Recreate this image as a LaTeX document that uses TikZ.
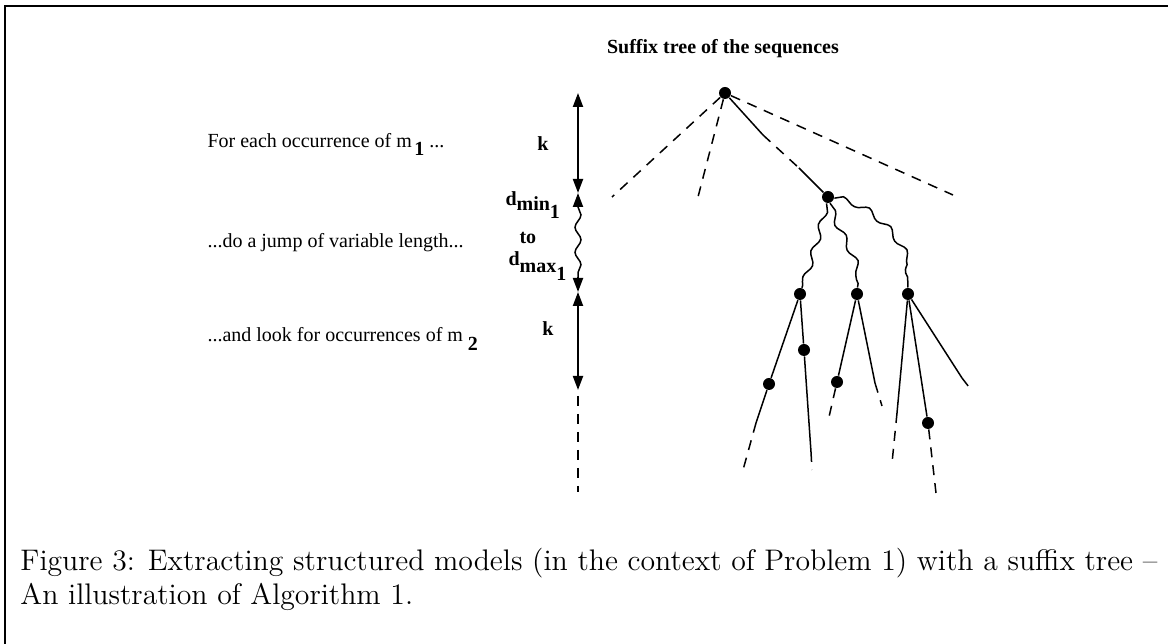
\documentclass[tikz,border=0pt]{standalone}
\usepackage{fontspec}
\newfontfamily\tms{Liberation Serif}
\usetikzlibrary{arrows.meta,decorations.pathmorphing}
\begin{document}
\begin{tikzpicture}[x=0.4pt,y=-0.4pt,
  dot/.style={circle,fill=black,inner sep=0pt,minimum size=4.8pt},
  edge/.style={line width=0.6pt},
  dedge/.style={line width=0.6pt,dash pattern=on 4pt off 3.2pt},
  wavy/.style={line width=0.6pt,decorate,decoration={snake,segment length=11pt,amplitude=1.2pt}},
  ktip/.tip={Triangle[length=5.6pt,width=4pt]},
  dimline/.style={line width=0.8pt},
  lbl/.style={font=\tms\fontsize{8}{9.6}\selectfont,inner sep=0pt,anchor=base west},
  blbl/.style={font=\tms\bfseries\fontsize{8}{9.6}\selectfont,inner sep=0pt},
  captext/.style={font=\fontsize{11.9}{14}\selectfont,inner sep=0pt,anchor=base west}]
\useasboundingbox (0,0) rectangle (1168,644);
% frame
\draw[line width=0.8pt] (1168,6) -- (5,6) -- (5,644);
% title
\node[blbl] (title) at (723,49) {Suffix tree of the sequences};
% left texts
\node[lbl] (t1) at (207,148) {For each occurrence of m\hspace{1pt}\raisebox{-3pt}{\textbf{1}} ...};
\node[lbl] (t2) at (207,248) {...do a jump of variable length...};
\node[lbl] (t3) at (207,342) {...and look for occurrences of m\hspace{2pt}\raisebox{-3.5pt}{\textbf{2}}};
\node[blbl,anchor=base] (k1) at (543,151) {k};
\node[blbl,anchor=base] (k2) at (548,336) {k};
\node[blbl,anchor=base west] (dmin) at (505,206) {d\raisebox{-2pt}{min}\raisebox{-5pt}{1}};
\node[blbl,anchor=base west] (to) at (519,244) {to};
\node[blbl,anchor=base west] (dmax) at (508,266) {d\raisebox{-2.5pt}{max}\raisebox{-6pt}{1}};
% dimension column
\coordinate (a1) at (578,93);
\coordinate (a2) at (578,193);
\coordinate (j1) at (578,207);
\coordinate (j2) at (578,277);
\coordinate (j3) at (578,292);
\coordinate (b2) at (578,390);
\coordinate (c1) at (578,396);
\coordinate (c2) at (578,492);
\draw[dimline,{ktip}-{ktip}] (a1) -- (a2);
\draw[dimline,-{ktip}] (j1) -- (a2);
\draw[line width=0.6pt,decorate,decoration={snake,segment length=10pt,amplitude=1.2pt}] (j1) -- (j2);
\draw[dimline,-{ktip}] (j2) -- (j3);
\draw[dimline,{ktip}-{ktip}] (j3) -- (b2);
\draw[dedge] (c1) -- (c2);
% tree nodes
\node[dot] (R) at (725,93) {};
\node[dot] (N1) at (828,197) {};
\node[dot] (A) at (800,294) {};
\node[dot] (B) at (857,294) {};
\node[dot] (C) at (908,294) {};
\node[dot] (A1) at (804,350) {};
\node[dot] (A2) at (769,384) {};
\node[dot] (B1) at (837,382) {};
\node[dot] (C1) at (928,423) {};
% leaf coordinates
\coordinate (L1) at (612,197);
\coordinate (L2) at (698,197);
\coordinate (L3) at (953,195);
\coordinate (RN1) at (763,135);
\coordinate (RN2) at (799,168);
\coordinate (A2s) at (756,423);
\coordinate (A2e) at (743,470);
\coordinate (A1s) at (811,452);
\coordinate (A1e) at (812,470);
\coordinate (B1e) at (829,417);
\coordinate (Bs) at (875,383);
\coordinate (Be) at (882,406);
\coordinate (Cs) at (897,413);
\coordinate (Ce) at (892,463);
\coordinate (C1e) at (936,493);
\coordinate (Cs2) at (962,378);
\coordinate (Ce2) at (972,391);
% root edges
\draw[dedge] (R) -- (L1);
\draw[dedge] (R) -- (L2);
\draw[dedge] (R) -- (L3);
\draw[edge] (R) -- (RN1);
\draw[dedge] (RN1) -- (RN2);
\draw[edge] (RN2) -- (N1);
% wavy edges
\draw[wavy] (N1) .. controls (820,232) and (810,262) .. (A);
\draw[wavy] (N1) .. controls (840,235) and (860,252) .. (B);
\draw[wavy] (N1) .. controls (872,205) and (908,250) .. (C);
% lower edges
\draw[edge] (A) -- (A2);
\draw[edge] (A2) -- (A2s);
\draw[dedge] (A2s) -- (A2e);
\draw[edge] (A) -- (A1);
\draw[edge] (A1) -- (A1s);
\draw[dedge] (A1s) -- (A1e);
\draw[edge] (B) -- (B1);
\draw[dedge] (B1) -- (B1e);
\draw[edge] (B) -- (Bs);
\draw[dedge] (Bs) -- (Be);
\draw[edge] (C) -- (Cs);
\draw[dedge] (Cs) -- (Ce);
\draw[edge] (C) -- (C1);
\draw[dedge] (C1) -- (C1e);
\draw[edge] (C) -- (Cs2);
\draw[dedge] (Cs2) -- (Ce2);
% caption
\node[captext] (cap1) at (20,571) {Figure 3: Extracting structured models (in the context of Problem 1) with a suffix tree --};
\node[captext] (cap2) at (20,605) {An illustration of Algorithm 1.};
\end{tikzpicture}
\end{document}
